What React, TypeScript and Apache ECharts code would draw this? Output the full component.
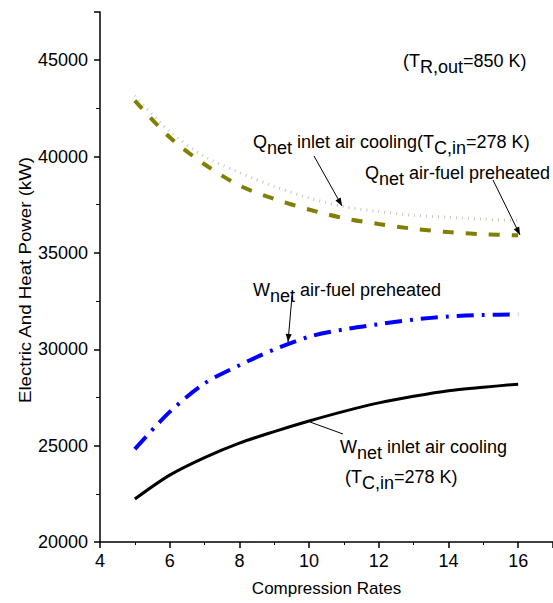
import React, { useEffect, useRef } from 'react';
import * as echarts from 'echarts';

const compressionRates = [5, 6, 7, 8, 9, 10, 11, 12, 13, 14, 15, 16];
const wNetInletCooling = [22230, 23470, 24380, 25130, 25730, 26280, 26780, 27220, 27560, 27850, 28030, 28190];
const wNetPreheated = [24820, 26750, 28230, 29170, 29990, 30650, 31030, 31300, 31540, 31700, 31780, 31810];
const qNetPreheated = [42900, 41000, 39600, 38500, 37800, 37250, 36800, 36500, 36250, 36080, 35970, 35910];
const qNetInletCooling = [43150, 41300, 40000, 39170, 38450, 37850, 37400, 37150, 36950, 36850, 36750, 36680];

const xTickLabels = ['4', '6', '8', '10', '12', '14', '16'];
const yTickLabels = ['20000', '25000', '30000', '35000', '40000', '45000'];

const FONT = '"Liberation Sans", Arial, sans-serif';

const rich = {
  m: { fontSize: 18, fontFamily: FONT, color: '#000', padding: [0, 0, 6, 0] },
  s: { fontSize: 18, fontFamily: FONT, color: '#000', padding: [6, 0, 0, 0] },
};

function label(x: number, cy: number, text: string) {
  return {
    type: 'text',
    x,
    y: cy - 10,
    z: 100,
    style: {
      text,
      rich,
      fontSize: 18,
      fontFamily: FONT,
      fill: '#000',
      textVerticalAlign: 'top',
      textAlign: 'left',
    },
  };
}

function arrow(x1: number, y1: number, x2: number, y2: number, head = true) {
  const els: any[] = [
    {
      type: 'line',
      z: 100,
      shape: { x1, y1, x2, y2 },
      style: { stroke: '#000', lineWidth: 1 },
    },
  ];
  if (head) {
    const a = Math.atan2(y2 - y1, x2 - x1);
    const L = 8;
    const w = 3;
    const bx = x2 - L * Math.cos(a);
    const by = y2 - L * Math.sin(a);
    els.push({
      type: 'polygon',
      z: 100,
      shape: {
        points: [
          [x2, y2],
          [bx + w * Math.sin(a), by - w * Math.cos(a)],
          [bx - w * Math.sin(a), by + w * Math.cos(a)],
        ],
      },
      style: { fill: '#000' },
    });
  }
  return els;
}

export default function App() {
  const ref = useRef<HTMLDivElement>(null);
  useEffect(() => {
    if (!ref.current) return;
    const chart = echarts.init(ref.current, null, { renderer: 'svg' });
    const pair = (ys: number[]) => compressionRates.map((x, i) => [x, ys[i]]);
    chart.setOption({
      animation: false,
      backgroundColor: '#fff',
      grid: { left: 100, top: 12, right: -2, bottom: 61 },
      xAxis: {
        type: 'value',
        min: 4,
        max: 17,
        interval: 2,
        name: 'Compression Rates',
        nameLocation: 'middle',
        nameGap: 38,
        nameTextStyle: { fontSize: 17, fontFamily: FONT, color: '#000' },
        axisLine: { show: true, onZero: false, lineStyle: { color: '#000', width: 1.5 } },
        axisTick: { show: true, inside: false, length: 6, lineStyle: { color: '#000', width: 1.5 } },
        minorTick: { show: true, splitNumber: 2, length: 3, lineStyle: { color: '#000', width: 1 } },
        axisLabel: {
          fontSize: 18,
          fontFamily: FONT,
          color: '#000',
          margin: 10,
          showMaxLabel: false,
          formatter: (v: number) => (xTickLabels.includes(String(v)) ? String(v) : ''),
        },
        splitLine: { show: false },
        minorSplitLine: { show: false },
      },
      yAxis: {
        type: 'value',
        min: 20000,
        max: 47500,
        interval: 5000,
        axisLine: { show: true, onZero: false, lineStyle: { color: '#000', width: 1.5 } },
        axisTick: { show: true, inside: false, length: 6, lineStyle: { color: '#000', width: 1.5 } },
        minorTick: { show: true, splitNumber: 2, length: 4, lineStyle: { color: '#000', width: 1 } },
        axisLabel: {
          fontSize: 18,
          fontFamily: FONT,
          color: '#000',
          margin: 12,
          showMaxLabel: false,
          formatter: (v: number) => (yTickLabels.includes(String(v)) ? String(v) : ''),
        },
        splitLine: { show: false },
      },
      series: [
        {
          name: 'Qnet inlet air cooling',
          type: 'line',
          data: pair(qNetInletCooling),
          showSymbol: false,
          smooth: 0.3,
          lineStyle: { color: '#c8c8b4', width: 3, type: [1, 5] },
        },
        {
          name: 'Qnet air-fuel preheated',
          type: 'line',
          data: pair(qNetPreheated),
          showSymbol: false,
          smooth: 0.3,
          lineStyle: { color: '#808000', width: 4, type: [11, 12] },
        },
        {
          name: 'Wnet air-fuel preheated',
          type: 'line',
          data: pair(wNetPreheated),
          showSymbol: false,
          smooth: 0.3,
          lineStyle: { color: '#0000ff', width: 4, type: [17, 8, 3, 8] },
        },
        {
          name: 'Wnet inlet air cooling',
          type: 'line',
          data: pair(wNetInletCooling),
          showSymbol: false,
          smooth: 0.3,
          lineStyle: { color: '#000', width: 3, type: 'solid' },
        },
      ],
      graphic: [
        {
          type: 'text',
          x: 25,
          y: 280,
          rotation: Math.PI / 2,
          scaleX: 1.1,
          style: {
            text: 'Electric And Heat Power (kW)',
            fontSize: 17,
            fontFamily: FONT,
            fill: '#000',
            textAlign: 'center',
            textVerticalAlign: 'middle',
          },
        },
        label(403, 62, '{m|(T}{s|R,out}{m|=850 K)}'),
        label(253, 143, '{m|Q}{s|net}{m| inlet air cooling(T}{s|C,in}{m|=278 K)}'),
        label(365, 174, '{m|Q}{s|net}{m| air-fuel preheated}'),
        label(253, 291, '{m|W}{s|net}{m| air-fuel preheated}'),
        label(340, 448, '{m|W}{s|net}{m| inlet air cooling}'),
        label(345, 478, '{m|(T}{s|C,in}{m|=278 K)}'),
        ...arrow(314, 156, 342, 206),
        ...arrow(493, 180, 520, 235),
        ...arrow(292, 296, 288, 342),
        ...arrow(343, 434, 310, 422, false),
      ],
    });
    return () => chart.dispose();
  }, []);
  return (
    <div
      ref={ref}
      style={{ position: 'fixed', left: 0, top: 0, width: 553, height: 603, background: '#fff' }}
    />
  );
}
